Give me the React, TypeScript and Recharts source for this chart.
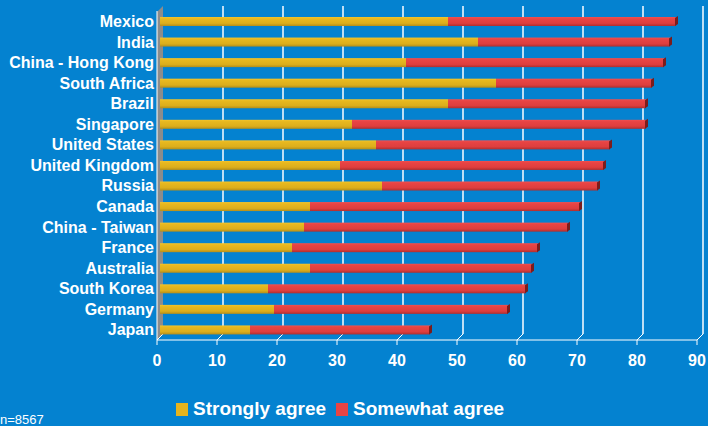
import React from 'react';
import { BarChart, Bar, XAxis, YAxis, CartesianGrid } from 'recharts';

const countries = [
  'Mexico', 'India', 'China - Hong Kong', 'South Africa', 'Brazil', 'Singapore',
  'United States', 'United Kingdom', 'Russia', 'Canada', 'China - Taiwan',
  'France', 'Australia', 'South Korea', 'Germany', 'Japan',
];
const stronglyAgree = [48, 53, 41, 56, 48, 32, 36, 30, 37, 25, 24, 22, 25, 18, 19, 15];
const somewhatAgree = [38, 32, 43, 26, 33, 49, 39, 44, 36, 45, 44, 41, 37, 43, 39, 30];
const xTicks = [0, 10, 20, 30, 40, 50, 60, 70, 80, 90];

const data = countries.map((c, i) => ({
  country: c,
  strongly: stronglyAgree[i],
  somewhat: somewhatAgree[i],
}));

const FONT = '"Liberation Sans", Arial, sans-serif';
const BG = '#0482d0';

// bars sit a little behind the front axis plane (3D look)
const YellowBar = (p: any) => {
  const { x, y, width, height } = p;
  return <rect x={x + 3} y={y} width={width} height={height} fill="url(#gYellow)" />;
};

const RedBar = (p: any) => {
  const { x, y, width, height } = p;
  const r = x + 3 + width;
  return (
    <g>
      <rect x={x + 3} y={y} width={width} height={height} fill="url(#gRed)" />
      <polygon
        points={`${r - 1},${y + height} ${r - 1},${y + 1} ${r + 2},${y - 1} ${r + 2},${y + height - 2}`}
        fill="#7c1c1c"
      />
    </g>
  );
};

const gridLine = (props: any) => {
  const { x1, y1, y2, index } = props;
  if (index === 0) {
    return (
      <g key={`wall-${index}`}>
        <polygon
          points={`${x1},${y2} ${x1},${y1 + 1} ${x1 + 6},${y1 - 5} ${x1 + 6},${y2 - 6}`}
          fill="#8c8c8c"
        />
        <line x1={x1} y1={y2} x2={x1 + 6} y2={y2 - 6} stroke="#ffffff" strokeWidth={1} />
      </g>
    );
  }
  return (
    <g key={`grid-${index}`}>
      <line x1={x1 + 6} y1={y1 - 5} x2={x1 + 6} y2={y2 - 6} stroke="#eef7fd" strokeWidth={1.6} />
      <line x1={x1} y1={y2} x2={x1 + 6} y2={y2 - 6} stroke="#ffffff" strokeWidth={1} />
    </g>
  );
};

export default function App() {
  return (
    <div
      style={{
        position: 'absolute',
        left: 0,
        top: 0,
        width: 708,
        height: 426,
        background: BG,
        overflow: 'hidden',
        fontFamily: FONT,
      }}
    >
      <BarChart
        width={708}
        height={426}
        data={data}
        layout="vertical"
        margin={{ top: 11, right: 11, bottom: 56, left: 0 }}
        barSize={9}
      >
        <defs>
          <linearGradient id="gYellow" x1="0" y1="0" x2="0" y2="1">
            <stop offset="0%" stopColor="#f2c42c" />
            <stop offset="20%" stopColor="#e8b81f" />
            <stop offset="70%" stopColor="#dcae1c" />
            <stop offset="100%" stopColor="#b48e1a" />
          </linearGradient>
          <linearGradient id="gRed" x1="0" y1="0" x2="0" y2="1">
            <stop offset="0%" stopColor="#f05050" />
            <stop offset="20%" stopColor="#e84444" />
            <stop offset="70%" stopColor="#de3e3e" />
            <stop offset="100%" stopColor="#b02e2e" />
          </linearGradient>
        </defs>
        <CartesianGrid horizontal={false} vertical={gridLine} />
        <XAxis
          type="number"
          domain={[0, 90]}
          ticks={xTicks}
          interval={0}
          height={30}
          axisLine={{ stroke: '#ffffff' }}
          tickLine={{ stroke: '#ffffff' }}
          tickSize={5}
          tickMargin={10}
          tick={{ fill: '#ffffff', fontSize: 16, fontWeight: 'bold', fontFamily: FONT }}
        />
        <YAxis
          type="category"
          dataKey="country"
          width={157}
          interval={0}
          axisLine={{ stroke: '#ffffff' }}
          tickLine={false}
          tickSize={0}
          tickMargin={3}
          tick={{ fill: '#ffffff', fontSize: 16, fontWeight: 'bold', fontFamily: FONT }}
        />
        <Bar dataKey="strongly" stackId="a" fill="#e6b41e" shape={YellowBar} isAnimationActive={false} />
        <Bar dataKey="somewhat" stackId="a" fill="#e84444" shape={RedBar} isAnimationActive={false} />
      </BarChart>

      <div
        style={{
          position: 'absolute',
          left: 176,
          top: 397,
          display: 'flex',
          alignItems: 'center',
          color: '#ffffff',
          fontWeight: 'bold',
          fontSize: 19,
          lineHeight: '24px',
          whiteSpace: 'nowrap',
        }}
      >
        <span style={{ width: 12, height: 13, background: '#e6b41e', display: 'inline-block', marginRight: 5 }} />
        <span>Strongly agree</span>
        <span style={{ width: 12, height: 13, background: '#e84444', display: 'inline-block', marginLeft: 10, marginRight: 5 }} />
        <span>Somewhat agree</span>
      </div>

      <div
        style={{
          position: 'absolute',
          left: 0,
          top: 413,
          color: '#ffffff',
          fontSize: 13,
          lineHeight: '13px',
          whiteSpace: 'nowrap',
        }}
      >
        n=8567
      </div>
    </div>
  );
}
